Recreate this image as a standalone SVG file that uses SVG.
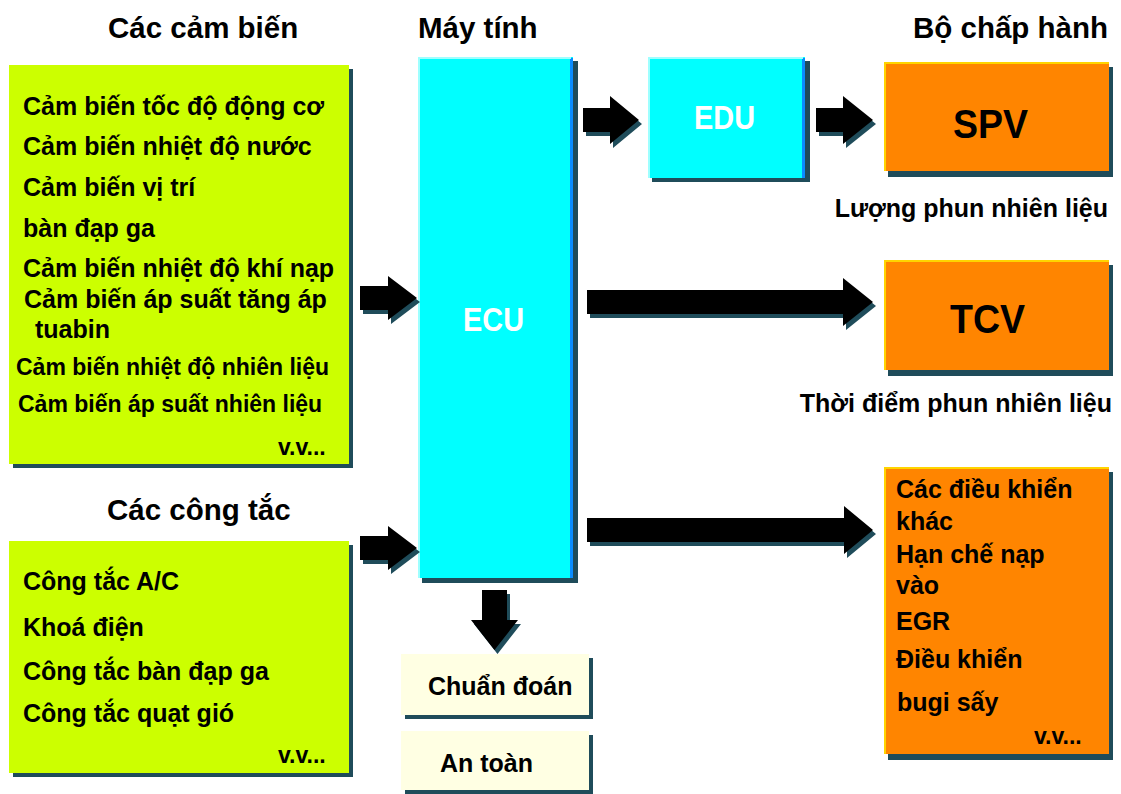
<svg xmlns="http://www.w3.org/2000/svg" width="1121" height="794" viewBox="0 0 1121 794">
<style>
text{font-family:"Liberation Sans",Arial,sans-serif;font-weight:bold;fill:#000}
.hd{font-size:29.5px}
.t25{font-size:25px}
.t23{font-size:23px}
.big{font-size:41px}
.wh{fill:#fff;font-size:33px}
.sh{fill:#1f4c5a}
.green{fill:#ccff00}
.cyan{fill:#00ffff}
.orange{fill:#ff8500}
.cream{fill:#ffffe3}
.blue{stroke:#0a8cff;stroke-width:3}
.lite{stroke:#9fffff;stroke-width:2}
.yel{stroke:#ffd400;stroke-width:2;fill:none}
.arr{fill:#000}
.arrsh{fill:#1f4c5a}
</style>
<rect width="1121" height="794" fill="#fff"/>

<g id="headers">
<text class="hd" x="108" y="38">Các cảm biến</text>
<text class="hd" x="418" y="38">Máy tính</text>
<text class="hd" x="1108" y="38" text-anchor="end">Bộ chấp hành</text>
<text class="hd" x="107" y="520">Các công tắc</text>
</g>

<g id="sensors">
<rect class="sh" x="13" y="69" width="340" height="399"/>
<rect class="green" x="9" y="65" width="340" height="399"/>
<text class="t25" x="23" y="115">Cảm biến tốc độ động cơ</text>
<text class="t25" x="23" y="155">Cảm biến nhiệt độ nước</text>
<text class="t25" x="23" y="196">Cảm biến vị trí</text>
<text class="t25" x="23" y="237">bàn đạp ga</text>
<text class="t25" x="23" y="277">Cảm biến nhiệt độ khí nạp</text>
<text class="t25" x="24" y="308">Cảm biến áp suất tăng áp</text>
<text class="t25" x="35" y="338">tuabin</text>
<text class="t23" x="16" y="375">Cảm biến nhiệt độ nhiên liệu</text>
<text class="t23" x="18" y="412">Cảm biến áp suất nhiên liệu</text>
<text class="t23" x="278" y="455">v.v...</text>
</g>

<g id="switches">
<rect class="sh" x="13" y="545" width="340" height="232"/>
<rect class="green" x="9" y="541" width="340" height="232"/>
<text class="t25" x="23" y="590">Công tắc A/C</text>
<text class="t25" x="23" y="636">Khoá điện</text>
<text class="t25" x="23" y="680">Công tắc bàn đạp ga</text>
<text class="t25" x="23" y="722">Công tắc quạt gió</text>
<text class="t23" x="278" y="763">v.v...</text>
</g>

<g id="ecu">
<rect class="sh" x="422" y="61" width="156" height="522"/>
<rect class="cyan" x="418" y="57" width="155" height="521"/>
<line class="blue" x1="571.5" y1="58" x2="571.5" y2="578"/>
<line class="lite" x1="418" y1="58" x2="571" y2="58"/>
<line class="lite" x1="419" y1="57" x2="419" y2="578"/>
<text class="wh" x="463" y="331" textLength="61" lengthAdjust="spacingAndGlyphs">ECU</text>
</g>

<g id="edu">
<rect class="sh" x="652" y="61" width="158" height="121"/>
<rect class="cyan" x="648" y="57" width="157" height="121"/>
<line class="blue" x1="803.5" y1="58" x2="803.5" y2="178"/>
<line class="lite" x1="648" y1="58" x2="803" y2="58"/>
<line class="lite" x1="649" y1="57" x2="649" y2="178"/>
<text class="wh" x="694" y="129" textLength="61" lengthAdjust="spacingAndGlyphs">EDU</text>
</g>

<g id="spv">
<rect class="sh" x="888" y="67" width="225" height="110"/>
<rect class="orange" x="884" y="62" width="225" height="109"/>
<polyline class="yel" points="885,171 885,63 1109,63"/>
<text class="big" x="953" y="138" textLength="75" lengthAdjust="spacingAndGlyphs">SPV</text>
<text class="t25" x="1108" y="217" text-anchor="end">Lượng phun nhiên liệu</text>
</g>

<g id="tcv">
<rect class="sh" x="888" y="265" width="225" height="111"/>
<rect class="orange" x="884" y="260" width="225" height="110"/>
<polyline class="yel" points="885,370 885,261 1109,261"/>
<text class="big" x="950" y="333" textLength="75" lengthAdjust="spacingAndGlyphs">TCV</text>
<text class="t25" x="1112" y="412" text-anchor="end">Thời điểm phun nhiên liệu</text>
</g>

<g id="others">
<rect class="sh" x="888" y="472" width="225" height="288"/>
<rect class="orange" x="884" y="467" width="225" height="287"/>
<polyline class="yel" points="885,754 885,468 1109,468"/>
<text class="t25" x="896" y="498">Các điều khiển</text>
<text class="t25" x="896" y="530">khác</text>
<text class="t25" x="896" y="563">Hạn chế nạp</text>
<text class="t25" x="896" y="594">vào</text>
<text class="t25" x="896" y="630">EGR</text>
<text class="t25" x="896" y="668">Điều khiển</text>
<text class="t25" x="897" y="711">bugi sấy</text>
<text class="t23" x="1034" y="744">v.v...</text>
</g>

<g id="diag">
<rect class="sh" x="405" y="658" width="188" height="61"/>
<rect class="cream" x="401" y="654" width="188" height="61"/>
<text class="t25" x="428" y="695">Chuẩn đoán</text>
</g>

<g id="safety">
<rect class="sh" x="405" y="735" width="188" height="59"/>
<rect class="cream" x="401" y="731" width="188" height="59"/>
<text class="t25" x="440" y="772">An toàn</text>
</g>

<g id="connectors">
<g transform="translate(3,4)">
<polygon class="arrsh" points="360,286 388,286 388,276 417,298 388,320 388,310 360,310"/>
<polygon class="arrsh" points="360,536 388,536 388,526 417,548 388,570 388,560 360,560"/>
<polygon class="arrsh" points="583,108 610,108 610,96 639,120 610,144 610,132 583,132"/>
<polygon class="arrsh" points="816,108 843,108 843,96 873,120 843,144 843,132 816,132"/>
<polygon class="arrsh" points="587,290 843,290 843,278 873,302 843,326 843,314 587,314"/>
<polygon class="arrsh" points="587,518 844,518 844,506 873,530 844,554 844,542 587,542"/>
<polygon class="arrsh" points="482,590 507,590 507,620 518,620 494.5,650 471,620 482,620"/>
</g>
<polygon class="arr" points="360,286 388,286 388,276 417,298 388,320 388,310 360,310"/>
<polygon class="arr" points="360,536 388,536 388,526 417,548 388,570 388,560 360,560"/>
<polygon class="arr" points="583,108 610,108 610,96 639,120 610,144 610,132 583,132"/>
<polygon class="arr" points="816,108 843,108 843,96 873,120 843,144 843,132 816,132"/>
<polygon class="arr" points="587,290 843,290 843,278 873,302 843,326 843,314 587,314"/>
<polygon class="arr" points="587,518 844,518 844,506 873,530 844,554 844,542 587,542"/>
<polygon class="arr" points="482,590 507,590 507,620 518,620 494.5,650 471,620 482,620"/>
</g>
</svg>
